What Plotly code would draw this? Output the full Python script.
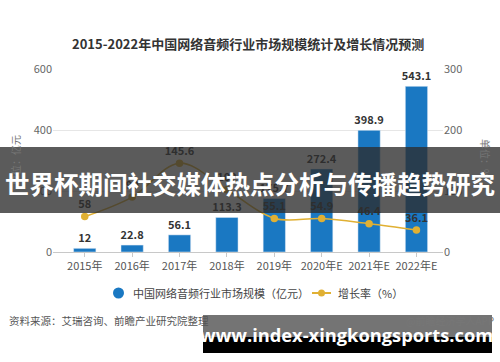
import plotly.graph_objects as go

years = ["2015年", "2016年", "2017年", "2018年", "2019年", "2020年E", "2021年E", "2022年E"]
market_size = [12, 22.8, 56.1, 113.3, 175.7, 272.4, 398.9, 543.1]
growth_rate = [58, 90, 145.6, 102.0, 55.1, 54.9, 46.4, 36.1]

W, H = 500, 362
L, R, T, B = 53, 443, 69, 252  # plot area pixels

def px(x):
    return (x - L) / (R - L)

def py(y):
    return (B - y) / (B - T)

CJK = "Noto Sans CJK SC"
BLUE = "#1a78c2"
GOLD = "#e0b033"

fig = go.Figure()
fig.add_trace(go.Bar(
    x=years, y=market_size, marker_color=BLUE, width=0.47,
    text=[f"<b>{v:g}</b>" for v in market_size], textposition="outside",
    constraintext="none",
    textfont=dict(family=CJK, size=11, color="#333333"),
    cliponaxis=False, showlegend=False,
))
fig.add_trace(go.Scatter(
    x=years, y=growth_rate, yaxis="y2", mode="lines+markers+text",
    line=dict(color=GOLD, width=1.6, shape="spline"),
    marker=dict(color=GOLD, size=7.5),
    text=[f"<b>{v:g}</b>" for v in growth_rate], textposition="top center",
    textfont=dict(family=CJK, size=11, color="#333333"),
    cliponaxis=False, showlegend=False,
))

fig.update_layout(
    width=W, height=H,
    margin=dict(l=L, r=W - R, t=T, b=H - B),
    paper_bgcolor="white", plot_bgcolor="white",
    font=dict(family=CJK, color="#555555"),
    bargap=0.5,
    xaxis=dict(
        type="category", range=[-0.67, 7.56],
        showline=True, linecolor="#c8c8c8", linewidth=1,
        ticks="outside", ticklen=4, tickcolor="#c8c8c8",
        tickfont=dict(size=11, color="#555555"), showgrid=False,
    ),
    yaxis=dict(
        range=[0, 600], tickvals=[0, 200, 400, 600],
        gridcolor="#e6e6e6", zeroline=False,
        tickfont=dict(size=11, color="#666666"), ticklen=4, ticks="",
    ),
    yaxis2=dict(
        range=[0, 300], tickvals=[0, 100, 200, 300], overlaying="y", side="right",
        showgrid=False, zeroline=False,
        tickfont=dict(size=11, color="#666666"),
    ),
)

ann = []
shapes = []

def text(x, y, s, size, color, family=CJK, xanchor="center", angle=0):
    ann.append(dict(x=px(x), y=py(y), xref="paper", yref="paper", text=s, showarrow=False,
                    xanchor=xanchor, yanchor="middle", textangle=angle,
                    font=dict(family=family, size=size, color=color)))

# Title
text(248, 43, "<b>2015-2022年中国网络音频行业市场规模统计及增长情况预测</b>", 13, "#333333")
# axis titles
text(15, 160, "单位：亿元", 10, "#777777", angle=-90)
text(486, 158, "单位：%", 10, "#777777", angle=90)
# Legend
shapes.append(dict(type="circle", xref="paper", yref="paper", x0=px(113), x1=px(124), y0=py(298.5), y1=py(287.5),
                   fillcolor=BLUE, line=dict(width=0)))
text(131, 293, "中国网络音频行业市场规模（亿元）", 11, "#444444", xanchor="left")
shapes.append(dict(type="line", xref="paper", yref="paper", x0=px(312), x1=px(331), y0=py(293), y1=py(293),
                   line=dict(color=GOLD, width=2)))
shapes.append(dict(type="circle", xref="paper", yref="paper", x0=px(318), x1=px(325), y0=py(296.5), y1=py(289.5),
                   fillcolor=GOLD, line=dict(width=0)))
text(336, 293, "增长率（%）", 11, "#444444", xanchor="left")
# Source
text(7, 320, "资料来源：艾瑞咨询、前瞻产业研究院整理", 10.5, "#555555", xanchor="left")
text(496, 320, "@前瞻经济学人APP", 10, "#777777", xanchor="right")

# Overlay banner
shapes.append(dict(type="rect", xref="paper", yref="paper", x0=px(0), x1=px(500), y0=py(213), y1=py(147),
                   fillcolor="rgba(45,45,45,0.78)", line=dict(width=0), layer="above"))
text(250, 183, "<b>世界杯期间社交媒体热点分析与传播趋势研究</b>", 24.5, "white")
# bottom URL box
shapes.append(dict(type="rect", xref="paper", yref="paper", x0=px(203), x1=px(492), y0=py(337), y1=py(315),
                   fillcolor="rgba(70,70,70,0.75)", line=dict(width=0), layer="above"))
shapes.append(dict(type="rect", xref="paper", yref="paper", x0=px(203), x1=px(492), y0=py(353), y1=py(337),
                   fillcolor="black", line=dict(width=0), layer="above"))
text(346, 334, "<b>www.index-xingkongsports.com</b>", 18.3, "white", family="Open Sans")

fig.update_layout(annotations=ann, shapes=shapes)
fig.write_html("out.html", config={"displayModeBar": False},
               post_script="document.body.style.margin='0';document.body.style.overflow='hidden';")
